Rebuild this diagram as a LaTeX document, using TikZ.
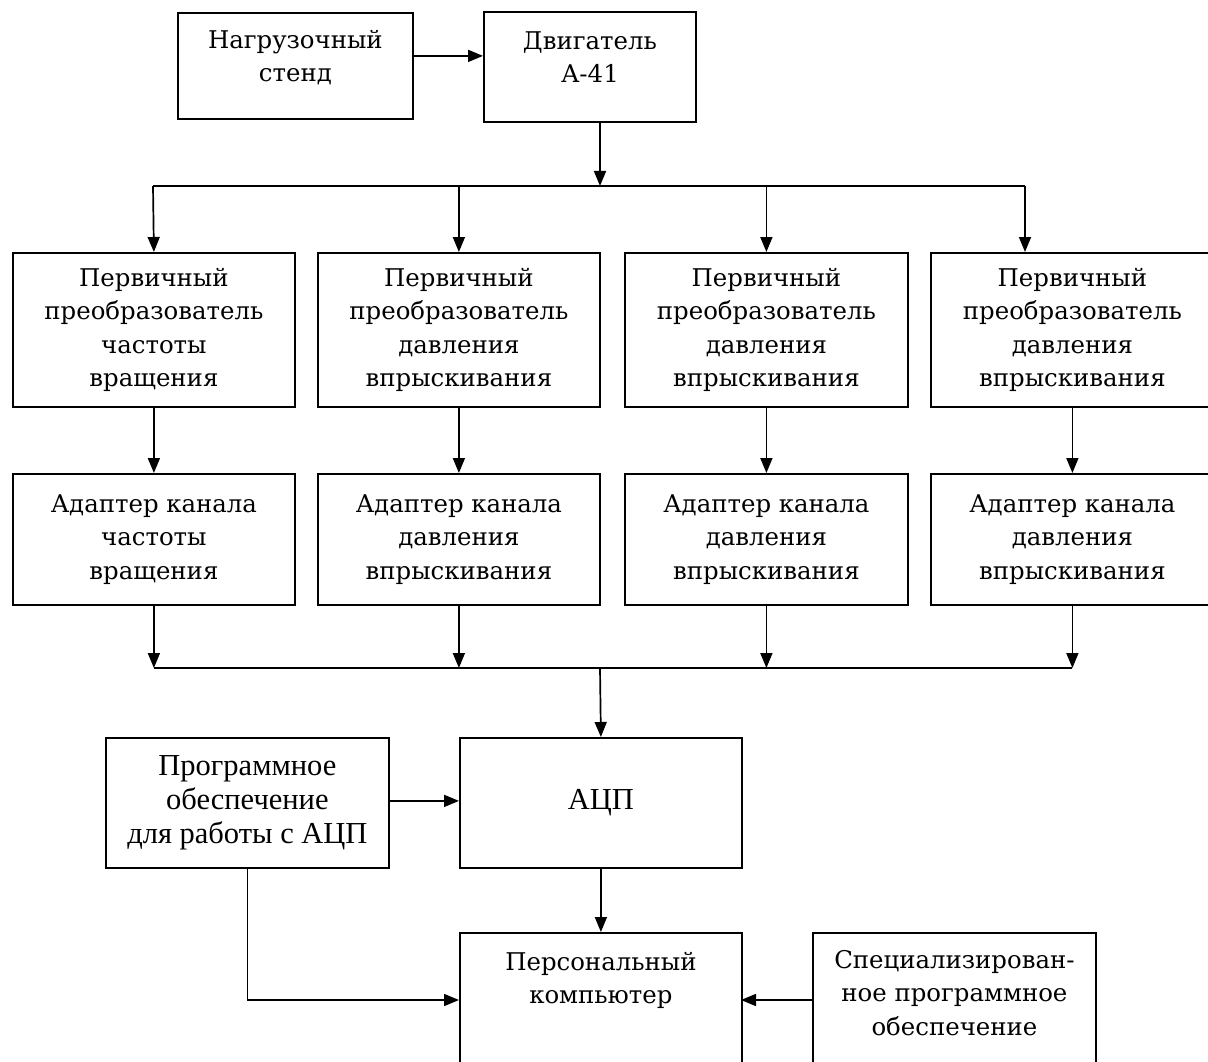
\documentclass[tikz,border=0pt]{standalone}
\usepackage{fontspec}
\newfontfamily\monofnt{DejaVu Serif}
\newfontfamily\serfnt{Liberation Serif}
\usetikzlibrary{arrows.meta,calc}
\tikzset{
  blk/.style={draw, line width=1.8pt, anchor=north west, inner sep=0pt, rectangle},
  mtxt/.style={align=center, inner sep=0pt, font=\monofnt\fontsize{24.4}{33.5}\selectfont},
  stxt/.style={align=center, inner sep=0pt, font=\serfnt\fontsize{30.5}{34}\selectfont},
  conn/.style={line width=1.7pt},
  arr/.style={line width=1.7pt, -{Triangle[length=15pt,width=12pt]}}
}
\begin{document}
\begin{tikzpicture}[x=1pt,y=-1pt]
\useasboundingbox (0,0) rectangle (1208,1062);
\clip (0,0) rectangle (1208,1062);
\fill[white] (0,0) rectangle (1208,1062);

% top boxes
\node[blk, minimum width=235pt, minimum height=106pt] (A) at (177,12) {};
\node[mtxt, anchor=north] (At) at ([yshift=-16pt]A.north) {\rule{0pt}{20pt}Нагрузочный\\стенд};
\node[blk, minimum width=212pt, minimum height=110pt] (B) at (483,11) {};
\node[mtxt, anchor=north] (Bt) at ([yshift=-18pt]B.north) {\rule{0pt}{20pt}Двигатель\\А-41};

% row 1
\node[blk, mtxt, anchor=north west, minimum width=282pt, minimum height=154pt] (P1) at (12,252) {Первичный\\преобразователь\\частоты\\вращения};
\node[blk, mtxt, anchor=north west, minimum width=282pt, minimum height=154pt] (P2) at (317,252) {Первичный\\преобразователь\\давления\\впрыскивания};
\node[blk, mtxt, anchor=north west, minimum width=283pt, minimum height=154pt] (P3) at (624,252) {Первичный\\преобразователь\\давления\\впрыскивания};
\node[blk, mtxt, anchor=north west, minimum width=283pt, minimum height=154pt] (P4) at (930,252) {Первичный\\преобразователь\\давления\\впрыскивания};

% row 2
\node[blk, mtxt, anchor=north west, minimum width=282pt, minimum height=131pt] (D1) at (12,473) {Адаптер канала\\частоты\\вращения};
\node[blk, mtxt, anchor=north west, minimum width=282pt, minimum height=131pt] (D2) at (317,473) {Адаптер канала\\давления\\впрыскивания};
\node[blk, mtxt, anchor=north west, minimum width=283pt, minimum height=131pt] (D3) at (624,473) {Адаптер канала\\давления\\впрыскивания};
\node[blk, mtxt, anchor=north west, minimum width=283pt, minimum height=131pt] (D4) at (930,473) {Адаптер канала\\давления\\впрыскивания};

% lower boxes
\node[blk, stxt, anchor=north west, minimum width=282pt, minimum height=130pt] (ADC) at (459,737) {АЦП};
\node[blk, stxt, anchor=north west, minimum width=283pt, minimum height=130pt] (SW) at (105,737) {Программное\\обеспечение\\для работы с АЦП};
\node[blk, minimum width=282pt, minimum height=200pt] (PC) at (459,932) {};
\node[mtxt, anchor=north] (PCt) at ([yshift=-18pt]PC.north) {\rule{0pt}{20pt}Персональный\\компьютер};
\node[blk, minimum width=283pt, minimum height=200pt] (SP) at (812,932) {};
\node[mtxt, anchor=north] (SPt) at ([yshift=-16pt]SP.north) {\rule{0pt}{20pt}Специализирован-\\ное программное\\обеспечение};

% coordinates
\coordinate (bt) at (600,186);
\coordinate (t1) at (153,186);
\coordinate (t4) at (1025,186);
\coordinate (bb) at (600,668);
\coordinate (pcL) at (459,1000);
\coordinate (pcR) at (741,1000);

% connectors
\draw[arr] ([yshift=10pt]A.east) -- ([yshift=10pt]A.east -| B.west);
\draw[arr] (B.south -| bt) -- (bt);
\draw[conn] (t1) -- (t4);
\draw[arr] (t1) -- (P1.north);
\draw[arr] (P2.north |- t1) -- (P2.north);
\draw[arr] (P3.north |- t1) -- (P3.north);
\draw[arr] (t4) -- (t4 |- P4.north);

\draw[arr] (P1.south) -- (D1.north);
\draw[arr] (P2.south) -- (D2.north);
\draw[arr] (P3.south) -- (D3.north);
\draw[arr] (P4.south) -- (D4.north);

\draw[arr] (D1.south) -- (D1.south |- bb);
\draw[arr] (D2.south) -- (D2.south |- bb);
\draw[arr] (D3.south) -- (D3.south |- bb);
\draw[arr] (D4.south) -- (D4.south |- bb);
\draw[conn] (D1.south |- bb) -- (D4.south |- bb);
\draw[arr] (bb) -- (ADC.north);

\draw[arr] ([yshift=2pt]SW.east) -- ([yshift=2pt]SW.east -| ADC.west);
\draw[arr] (ADC.south) -- (PC.north);
\draw[arr] (SW.south) |- (pcL);
\draw[arr] (SP.west |- pcR) -- (pcR);
\end{tikzpicture}
\end{document}
